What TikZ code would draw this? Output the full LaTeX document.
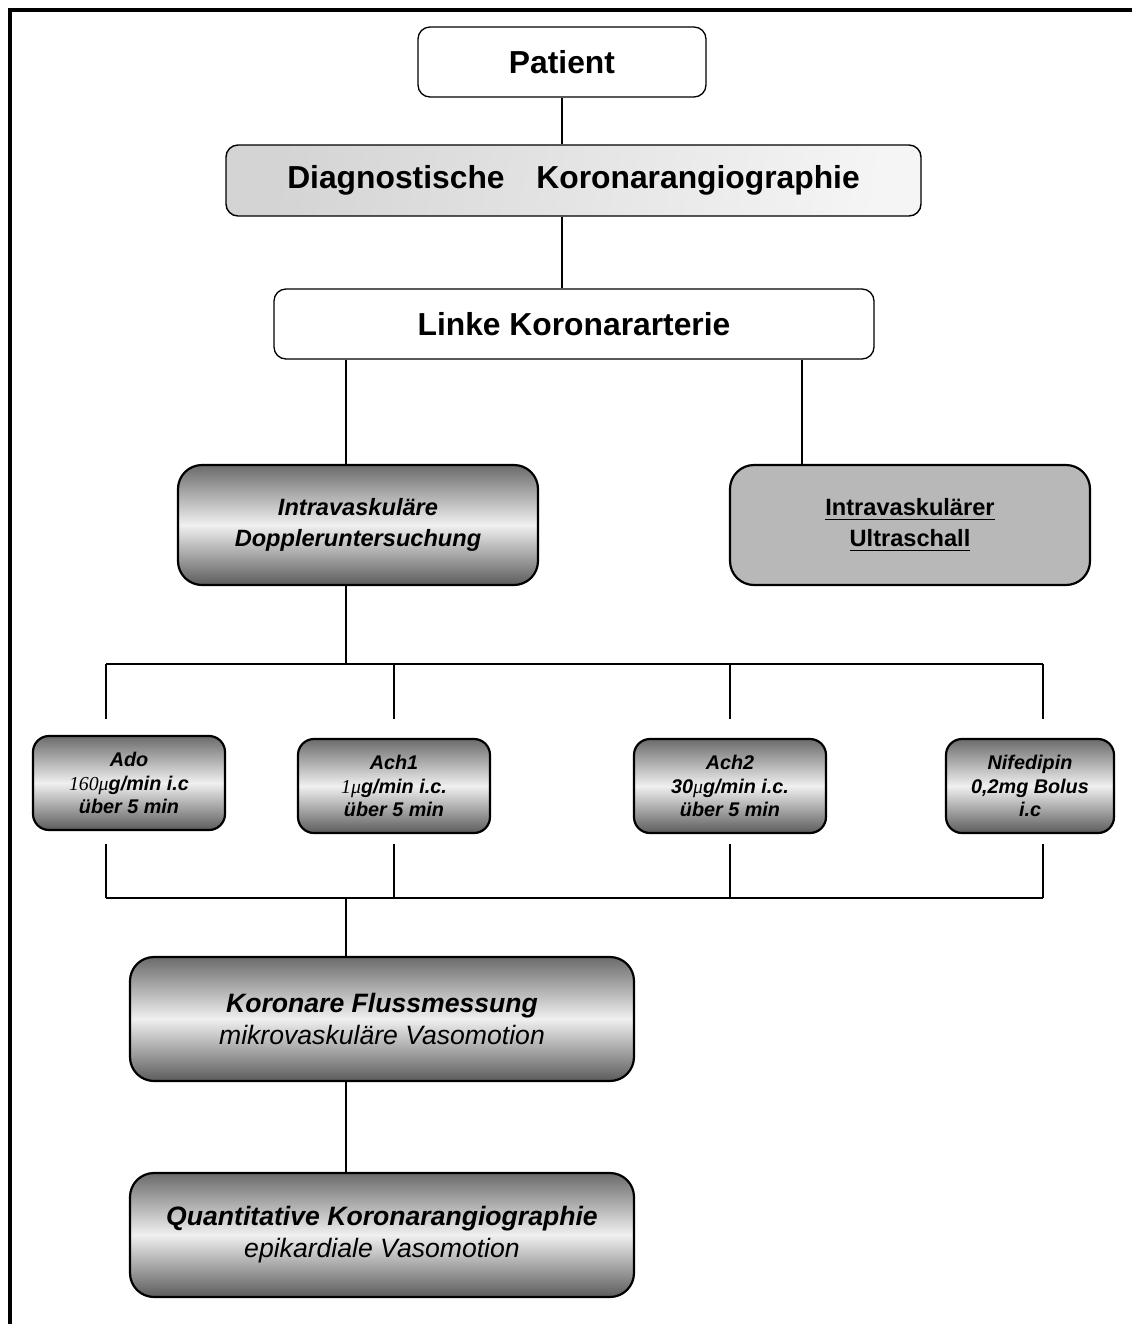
\documentclass[tikz,border=0pt]{standalone}
\usepackage{fontspec}
\setmainfont{Liberation Sans}
\newfontfamily\numfont{Liberation Serif}
\usetikzlibrary{positioning,calc}

\begin{document}
\begin{tikzpicture}[
  x=0.5pt, y=-0.5pt,
  box/.style={draw=black, line width=0.65pt, rounded corners=6pt, align=center,
              inner sep=0pt, fill=white},
  head/.style={box, font=\fontsize{15.9}{19}\selectfont\bfseries},
  lightbox/.style={head, line width=0.7pt, shading=axis, left color=black!17, right color=black!4,
                   shading angle=80},
  thick box/.style={box, line width=1.1pt, rounded corners=12pt},
  metal/.style={thick box, top color=black!58, bottom color=black!64, middle color=black!6},
  methodsize/.style={minimum width=180pt, minimum height=60pt,
                     font=\fontsize{11.8}{15.5}\selectfont\bfseries},
  method/.style={metal, methodsize, font=\fontsize{11.8}{15.5}\selectfont\bfseries\itshape},
  drug/.style={metal, rounded corners=8pt, minimum width=96pt, minimum height=47pt,
               font=\fontsize{9.9}{11.9}\selectfont\bfseries\itshape},
  result/.style={metal, minimum width=252pt, minimum height=62pt,
                 font=\fontsize{13.3}{16}\selectfont\itshape},
  con/.style={line width=0.65pt, draw=black},
]
\useasboundingbox (0,0) rectangle (1132,1324);

% ---- frame (top and left edge only) ----
\draw[line width=2pt] (10,1324) -- (10,9.5) -- (1132,9.5);

% ---- top chain ----
\node[head, minimum width=144pt, minimum height=35pt] (pat) at (562,62) {Patient};
\node[lightbox, minimum width=347.5pt, minimum height=35.5pt] (diag) at (573.5,180.5)
  {Diagnostische\quad Koronarangiographie};
\node[head, minimum width=300pt, minimum height=35pt] (linke) at (574,324)
  {Linke Koronararterie};

% ---- methods ----
\node[method] (dop) at (358,525) {Intravaskuläre\\Doppleruntersuchung};
\node[thick box, methodsize, fill=black!28]
  (ius) at (910,525) {\underline{Intravaskulärer}\\\underline{Ultraschall}};

% ---- drugs ----
\node[drug] (ado)  at (129,783)  {Ado\\{\numfont\mdseries 160μ}g/min i.c\\über 5 min};
\node[drug] (ach1) at (394,786)  {Ach1\\{\numfont\mdseries 1μ}g/min i.c.\\über 5 min};
\node[drug] (ach2) at (730,786)  {Ach2\\30{\numfont\mdseries μ}g/min i.c.\\über 5 min};
\node[drug, minimum width=84pt] (nif) at (1030,786) {Nifedipin\\0,2mg Bolus\\i.c};

% ---- results ----
\node[result] (flow) at (382,1019)
  {\textbf{Koronare Flussmessung}\\mikrovaskuläre Vasomotion};
\node[result] (qca) at (382,1235)
  {\textbf{Quantitative Koronarangiographie}\\epikardiale Vasomotion};

% ---- bus coordinates ----
\coordinate (cL) at (346,664);
\coordinate (cR) at (802,664);
\foreach \x [count=\i] in {106,394,730,1043} {
  \coordinate (t\i) at (\x,664);
  \coordinate (u\i) at (\x,719);
  \coordinate (v\i) at (\x,844);
  \coordinate (w\i) at (\x,898);
}

% ---- connectors ----
\draw[con] (pat.south) -- (pat.south |- diag.north);
\draw[con] (pat.south |- diag.south) -- (pat.south |- linke.north);
\draw[con] (linke.south -| cL) -- (dop.north -| cL);
\draw[con] (linke.south -| cR) -- (ius.north -| cR);
\draw[con] (dop.south -| cL) -- (cL);
\draw[con] (t1) -- (t4);
\foreach \i in {1,...,4} {
  \draw[con] (t\i) -- (u\i);
  \draw[con] (v\i) -- (w\i);
}
\draw[con] (w1) -- (w4);
\draw[con] (w1 -| cL) -- (flow.north -| cL);
\draw[con] (flow.south -| cL) -- (qca.north -| cL);
\end{tikzpicture}
\end{document}
